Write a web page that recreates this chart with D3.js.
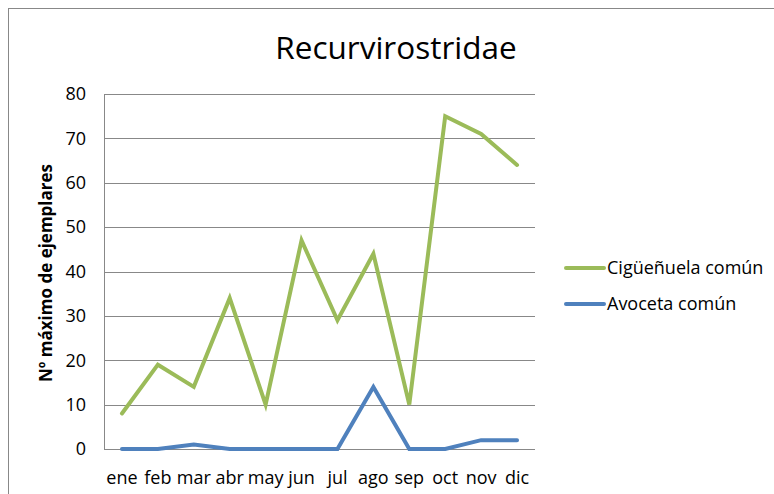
<!DOCTYPE html>
<html><head><meta charset="utf-8">
<script src="https://cdn.jsdelivr.net/npm/d3@7"></script>
<style>body{margin:0;background:#fff}svg{display:block}text{font-family:"Open Sans","Noto Sans",sans-serif;fill:#000}</style>
</head><body>
<script>
const months = ["ene","feb","mar","abr","may","jun","jul","ago","sep","oct","nov","dic"];
const ciguenuela = [8,19,14,34,10,47,29,44,10,75,71,64];
const avoceta = [0,0,1,0,0,0,0,14,0,0,2,2];
const seriesNames = ["Cigüeñuela común","Avoceta común"];
const seriesColors = ["#9BBB59","#4F81BD"];
const yTicks = [0,10,20,30,40,50,60,70,80];
const title = "Recurvirostridae";
const yLabel = "Nº máximo de ejemplares";

const W=774,H=494;
const svg=d3.select("body").append("svg").attr("width",W).attr("height",H);
svg.append("rect").attr("x",8.5).attr("y",8.5).attr("width",W+10).attr("height",H+10)
  .attr("fill","none").attr("stroke","#888").attr("stroke-width",1);

const L=104,R=535,T=94,B=449;
const x=d3.scaleBand().domain(months).range([L,R]);
const y=d3.scaleLinear().domain([0,80]).range([B,T]);

const g=svg.append("g");
g.selectAll("line.grid").data(yTicks).join("line")
  .attr("x1",L).attr("x2",R).attr("y1",d=>Math.round(y(d))+0.5).attr("y2",d=>Math.round(y(d))+0.5)
  .attr("stroke","#888").attr("stroke-width",1);
g.append("line").attr("x1",L+0.5).attr("x2",L+0.5).attr("y1",T).attr("y2",B+0.5).attr("stroke","#888");

g.selectAll("text.yt").data(yTicks).join("text")
  .attr("x",86).attr("y",d=>y(d)).attr("dy","0.35em").attr("text-anchor","end")
  .style("font-size","18px").text(d=>d);
g.selectAll("text.xt").data(months).join("text")
  .attr("x",d=>x(d)+x.bandwidth()/2).attr("y",484).attr("text-anchor","middle")
  .style("font-size","18px").text(d=>d);

const line=d3.line().x((d,i)=>x(months[i])+x.bandwidth()/2).y(d=>y(d));
[ciguenuela,avoceta].forEach((s,k)=>{
  g.append("path").attr("d",line(s)).attr("fill","none").attr("stroke",seriesColors[k])
   .attr("stroke-width",4).attr("stroke-linejoin","miter").attr("stroke-linecap","round");
});

svg.append("text").attr("x",396).attr("y",59).attr("text-anchor","middle")
  .style("font-size","31.5px").text(title);

svg.append("text").attr("transform","translate(52,273) rotate(-90)").attr("text-anchor","middle")
  .style("font-size","17px").style("font-weight","bold").text(yLabel);

const leg=svg.append("g");
seriesNames.forEach((n,k)=>{
  const yy=268+k*36;
  leg.append("line").attr("x1",566).attr("x2",604).attr("y1",yy).attr("y2",yy)
    .attr("stroke",seriesColors[k]).attr("stroke-width",4).attr("stroke-linecap","round");
  leg.append("text").attr("x",607).attr("y",yy).attr("dy","0.35em").style("font-size","18px").text(n);
});
</script>
</body></html>
